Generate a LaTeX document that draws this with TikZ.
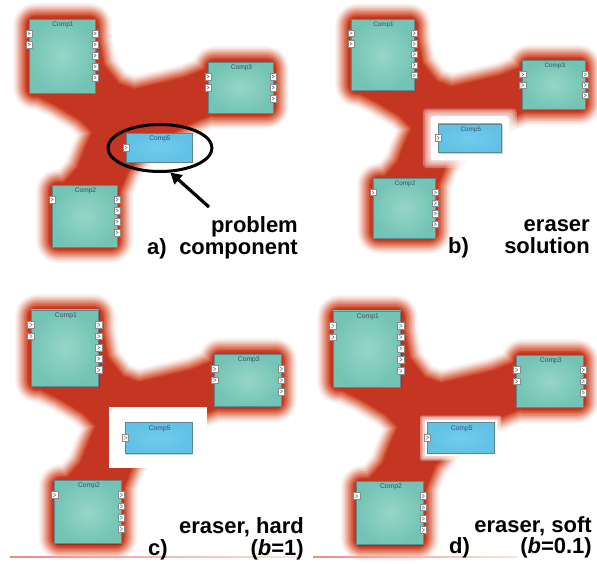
\documentclass[tikz,border=0pt]{standalone}
\usepackage{fontspec}
\setmainfont{Liberation Sans}
\usetikzlibrary{shapes.geometric,arrows.meta}
\definecolor{blobred}{RGB}{196,54,34}
\definecolor{blobor}{RGB}{214,84,52}
\definecolor{tealin}{RGB}{150,214,200}
\definecolor{tealout}{RGB}{116,196,181}
\definecolor{bluein}{RGB}{112,204,238}
\definecolor{blueout}{RGB}{98,193,230}
\definecolor{compedge}{RGB}{92,136,142}
\definecolor{titlecol}{RGB}{55,78,100}
\definecolor{portedge}{RGB}{140,140,140}
\definecolor{linered}{RGB}{236,140,130}
\tikzset{
 compnode/.style={rectangle, draw=compedge, line width=0.6pt, inner sep=0pt},
 tealcomp/.style={compnode, inner color=tealin, outer color=tealout},
 bluecomp/.style={compnode, inner color=bluein, outer color=blueout},
 porttab/.style={rectangle, draw=portedge, line width=0.4pt, fill=white, minimum width=6.5pt, minimum height=6.5pt, inner sep=0pt},
 chevron/.style={draw=gray!80!black, line width=0.45pt},
 comptitle/.style={font=\fontsize{6.6}{7}\selectfont, text=titlecol, inner sep=0pt},
 caption/.style={font=\fontsize{22}{24}\selectfont\bfseries, inner sep=0pt},
 ringmark/.style={ellipse, draw=black, line width=3pt, minimum width=104pt, minimum height=47pt, inner sep=0pt},
 pointer/.style={draw=black, line width=3.2pt, -{Triangle[length=11pt,width=12pt]}},
 compshadow/.style={fill=black, opacity=0.18},
 blobl/.style 2 args={fill=#1, draw=#1, line width={2*#2+0.01}, line join=round},
}
\newcommand\comp[9]{%
  \fill[compshadow] (#2+1,#3+1) rectangle (#4+1,#5+1);
  \node[#6, minimum width={#4-#2}, minimum height={#5-#3}] (#1) at ({(#2+#4)/2},{(#3+#5)/2}) {};
  \node[comptitle] (#1-t) at ({(#2+#4)/2+1},#3+6) {#7};
  \foreach \i in {1,...,#8}{%
    \node[porttab] (#1-l\i) at (#2,{#3+14.5+11*(\i-1)}) {};
    \draw[chevron] ([shift={(-1.2,-1.7)}]#1-l\i.center) -- ([shift={(1.2,0)}]#1-l\i.center) -- ([shift={(-1.2,1.7)}]#1-l\i.center);
  }%
  \ifnum #9>0\relax
  \foreach \i in {1,...,#9}{%
    \node[porttab] (#1-r\i) at (#4,{#3+14.5+11*(\i-1)}) {};
    \draw[chevron] ([shift={(-1.2,-1.7)}]#1-r\i.center) -- ([shift={(1.2,0)}]#1-r\i.center) -- ([shift={(-1.2,1.7)}]#1-r\i.center);
  }%
  \fi
}
\newcommand\comps[5]{%
  \comp{#1c1}{29}{19}{95}{93}{tealcomp}{Comp1}{2}{5}
  \comp{#1c3}{208}{62}{273}{113}{tealcomp}{Comp3}{2}{3}
  \comp{#1c2}{52}{185}{117}{247}{tealcomp}{Comp2}{1}{4}
  \comp{#1c5}{#2}{#3}{#4}{#5}{bluecomp}{Comp5}{1}{0}
}
\newcommand\blob{%
  \foreach \e/\c in {14/{blobor!6!white},12.5/{blobor!14!white},11/{blobor!25!white},9.5/{blobor!38!white},8/{blobor!52!white},6.5/{blobor!66!white},5/{blobor!80!white},3.5/{blobor!92!white},2/{blobred!50!blobor},0.5/{blobred}}{%
    \filldraw[blobl={\c}{\e}] (40,40) -- (96,28) -- (103,65) -- (118,84) -- (134,90) -- (160,84) -- (185,78) -- (210,68) -- (240,88) -- (212,114) -- (190,123) -- (150,145) -- (128,170) -- (119,192) -- (85,216) -- (62,186) -- (78,168) -- (85,150) -- (93,132) -- (80,119) -- (55,104) -- (32,93) -- cycle;
    \filldraw[blobl={\c}{\e}, rounded corners=8] (27,17) rectangle (98,96);
    \filldraw[blobl={\c}{\e}, rounded corners=8] (206,60) rectangle (275,115);
    \filldraw[blobl={\c}{\e}, rounded corners=8] (50,183) rectangle (119,249);
  }%
}
\begin{document}
\begin{tikzpicture}[x=1pt,y=-1pt]
\useasboundingbox (0,0) rectangle (597,563);
% panel a
\begin{scope}
  \blob
  \comps{a}{126}{133}{192}{162}
  \node[ringmark] (ell) at (160,148) {};
  \coordinate (atail) at (209,207);
  \draw[pointer] (atail) -- (ell.-67);
\end{scope}
% panel b
\begin{scope}[shift={(323,1)}, scale=0.96, transform shape]
  \blob
  \foreach \g in {16,14,12,10}{\fill[white, opacity=0.3, rounded corners=4] (120-\g,128-\g) rectangle (186+\g,158+\g);}
  \fill[white, rounded corners=3] (112,120) rectangle (194,166);
  \comps{b}{120}{128}{186}{158}
\end{scope}
% panel c
\begin{scope}[shift={(1.3,290.5)}, scale=1.025, transform shape]
  \blob
  \fill[white] (105,114) rectangle (201,173);
  \comps{c}{121}{129}{186}{159}
\end{scope}
% panel d
\begin{scope}[shift={(303.3,291.5)}, scale=1.025, transform shape]
  \blob
  \foreach \g in {7,5.5,4}{\fill[white, opacity=0.4, rounded corners=2] (121-\g,128-\g) rectangle (186+\g,158+\g);}
  \fill[white] (118.5,125.5) rectangle (188.5,160.5);
  \comps{d}{121}{128}{186}{158}
\end{scope}
% bottom rules
\shade[left color=linered, right color=linered!25!white] (10,556.5) rectangle (300,557.5);
\shade[left color=linered, right color=linered!25!white] (313,556.5) rectangle (517,557.5);
% captions
\node[caption, anchor=base east] (ta1) at (298,232) {problem};
\node[caption, anchor=base east] (ta2) at (298,254) {component};
\node[caption, anchor=base west] (la) at (147,254) {a)};
\node[caption, anchor=base east] (tb1) at (590,231) {eraser};
\node[caption, anchor=base east] (tb2) at (590,253) {solution};
\node[caption, anchor=base west] (lb) at (448,253) {b)};
\node[caption, anchor=base east] (tc1) at (304,533) {eraser, hard};
\node[caption, anchor=base east] (tc2) at (304,555) {(\textit{b}=1)};
\node[caption, anchor=base west] (lc) at (148,555) {c)};
\node[caption, anchor=base east] (td1) at (592,532) {eraser, soft};
\node[caption, anchor=base east] (td2) at (592,553) {(\textit{b}=0.1)};
\node[caption, anchor=base west] (ld) at (449,553) {d)};
\end{tikzpicture}
\end{document}
